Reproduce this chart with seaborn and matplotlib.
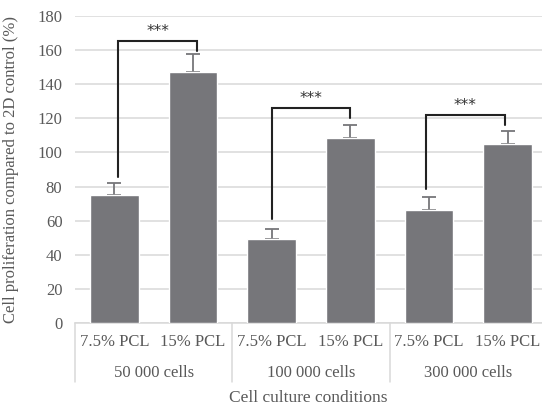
import matplotlib
matplotlib.use("Agg")
import matplotlib.pyplot as plt
import matplotlib.transforms as mtransforms
import seaborn as sns
import pandas as pd
import numpy as np

groups = ["50 000 cells", "100 000 cells", "300 000 cells"]
pcl = ["7.5% PCL", "15% PCL"]
values = [75, 147, 49.2, 108.3, 66.5, 105]
errors = [7, 11, 6, 8, 7.3, 7.6]
yticks = [0, 20, 40, 60, 80, 100, 120, 140, 160, 180]
# brackets: (left bar, right bar, left bottom, right bottom, top)
brackets = [(0, 1, 85.6, 159.7, 165.5), (2, 3, 61, 120.4, 126), (4, 5, 78.6, 116, 122)]
bracket_shift = [0.05, 0.0, -0.04]

keys = [f"{g}|{p}" for g in groups for p in pcl]
df = pd.DataFrame({"key": keys, "value": values})

sns.set_style("white")
plt.rcParams["font.family"] = ["Liberation Serif", "DejaVu Serif"]
txt = "#595959"
fs = 12

fig = plt.figure(figsize=(5.42, 4.07), dpi=100)
ax = fig.add_axes([75 / 542, 1 - 323 / 407, 472 / 542, 307 / 407])

sns.barplot(data=df, x="key", y="value", order=keys, color="#76767a",
            saturation=1, width=0.615, ax=ax, zorder=3)
x = np.arange(len(values))
ax.errorbar(x, values, yerr=[np.zeros(len(errors)), errors], fmt="none",
            ecolor="#76767a", elinewidth=1.3, capsize=5, capthick=1.3, zorder=2.5)

ax.set_ylim(0, 180)
ax.set_xlim(-0.5, 5.5)
ax.set_yticks(yticks)
ax.yaxis.grid(True, color="#d9d9d9", linewidth=1.1, zorder=0)
ax.set_axisbelow(True)
for s in ["top", "right", "left"]:
    ax.spines[s].set_visible(False)
ax.spines["bottom"].set_color("#d9d9d9")
ax.spines["bottom"].set_linewidth(1.1)

ax.set_xticks(x)
ax.set_xticklabels([p for g in groups for p in pcl])
ax.tick_params(axis="x", length=0, pad=8, labelsize=fs, labelcolor=txt)
ax.tick_params(axis="y", length=0, pad=9, labelsize=fs, labelcolor=txt)
ax.set_xlabel("")
ax.set_ylabel("Cell proliferation compared to 2D control (%)", fontsize=fs, color=txt)
ax.yaxis.set_label_coords(-0.118, 0.5)

trans = mtransforms.blended_transform_factory(ax.transData, ax.transAxes)
for b in [-0.5, 1.5, 3.5, 5.5]:
    ax.plot([b, b], [0, -0.193], color="#d9d9d9", linewidth=1.1,
            transform=trans, clip_on=False)
for i, g in enumerate(groups):
    ax.text(2 * i + 0.5, -0.163, g, transform=trans, ha="center", va="center",
            fontsize=fs, color=txt)
ax.text(1 - (547 - 308) / 472, -0.245, "Cell culture conditions",
        transform=ax.transAxes, ha="center", va="center", fontsize=fs + 0.5, color=txt)

for (l, r, lb, rb, top), sh in zip(brackets, bracket_shift):
    xl, xr = l + sh, r + sh
    ax.plot([xl, xl, xr, xr], [lb, top, top, rb], color="#222222",
            linewidth=1.5, zorder=5, solid_joinstyle="miter")
    ax.text((xl + xr) / 2, top + 1.0, "***", ha="center", va="bottom",
            fontsize=11, color="#333333", family="DejaVu Sans")

fig.savefig("out.png", dpi=100)
